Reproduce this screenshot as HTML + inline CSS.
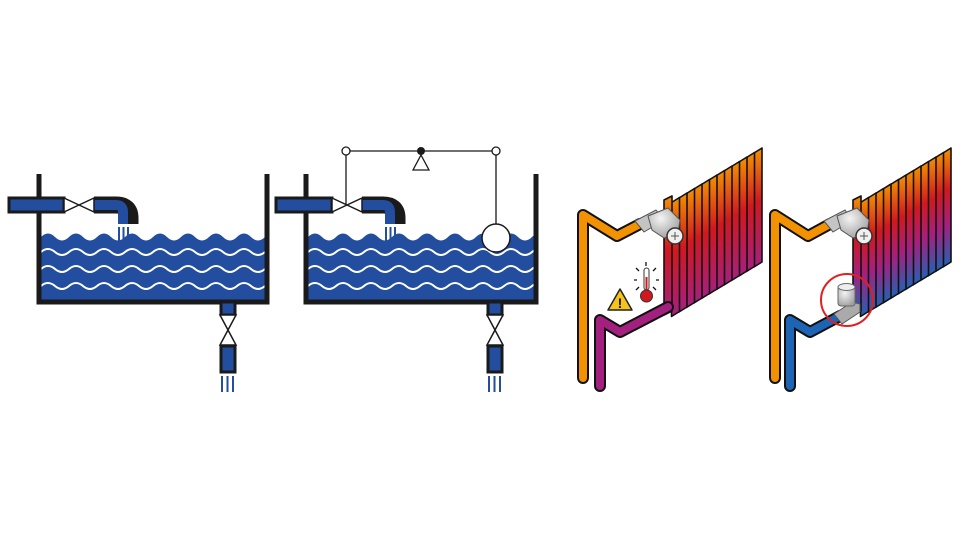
<!DOCTYPE html>
<html><head><meta charset="utf-8"><style>html,body{margin:0;padding:0;background:#fff}svg{display:block}</style></head>
<body>
<svg width="960" height="540" viewBox="0 0 960 540" xmlns="http://www.w3.org/2000/svg">
<defs>
<linearGradient id="g1" x1="0" y1="0" x2="0" y2="1">
<stop offset="0" stop-color="#f39200"/><stop offset="0.45" stop-color="#d2171f"/><stop offset="1" stop-color="#a4207f"/></linearGradient>
<linearGradient id="g2" x1="0" y1="0" x2="0" y2="1">
<stop offset="0" stop-color="#f39200"/><stop offset="0.35" stop-color="#d2171f"/><stop offset="0.65" stop-color="#a4207f"/><stop offset="1" stop-color="#1e64b4"/></linearGradient>
<radialGradient id="gv" cx="0.4" cy="0.35" r="0.7"><stop offset="0" stop-color="#f4f4f4"/><stop offset="1" stop-color="#a0a0a0"/></radialGradient>
<g id="wave"><path d="M0 0 q7 -6 14 0 t14 0 t14 0 t14 0 t14 0 t14 0 t14 0 t14 0 t14 0 t14 0 t14 0 t14 0 t14 0 t14 0 t14 0 t14 0 t14 0" fill="none" stroke="#fff" stroke-width="2"/></g>
<g id="tank">
<path d="M0 65 q7 -7 14 0 t14 0 t14 0 t14 0 t14 0 t14 0 t14 0 t14 0 t14 0 t14 0 t14 0 t14 0 t14 0 t14 0 t14 0 t14 0 t14 0 V128 H0 Z" fill="#234d9e"/>
<use href="#wave" y="80"/><use href="#wave" y="97"/><use href="#wave" y="114"/>
</g>
<g id="fins">
<polygon points="754,153 762,148 762,262 754,267"/>
<polygon points="746.5,157.5 754.5,152.5 754.5,266.5 746.5,271.5"/>
<polygon points="739,162 747,157 747,271 739,276"/>
<polygon points="731.5,166.5 739.5,161.5 739.5,275.5 731.5,280.5"/>
<polygon points="724,171 732,166 732,280 724,285"/>
<polygon points="716.5,175.5 724.5,170.5 724.5,284.5 716.5,289.5"/>
<polygon points="709,180 717,175 717,289 709,294"/>
<polygon points="701.5,184.5 709.5,179.5 709.5,293.5 701.5,298.5"/>
<polygon points="694,189 702,184 702,298 694,303"/>
<polygon points="686.5,193.5 694.5,188.5 694.5,302.5 686.5,307.5"/>
<polygon points="679,198 687,193 687,307 679,312"/>
<polygon points="671.5,202.5 679.5,197.5 679.5,311.5 671.5,316.5"/>
<polygon points="664,200 672,196 672,311 664,315"/>
</g>
<g id="tv">
<path d="M-27 -5 L-6 -16 L2 -6 L-18 6 Z" fill="#c4c4c4" stroke="#555" stroke-width="1"/>
<path d="M-14 -10 L6 -18 L18 -6 L16 8 L2 12 L-10 4 Z" fill="url(#gv)" stroke="#555" stroke-width="1"/>
<circle cx="13" cy="10" r="8" fill="#f0f0f0" stroke="#333" stroke-width="1.5"/>
<path d="M9 10 H17 M13 6 V14" stroke="#555" stroke-width="1"/>
</g>
</defs>

<!-- TANK 1 -->
<svg x="41" y="172" width="225" height="128" overflow="hidden"><use href="#tank"/></svg>
<path d="M39 174 V302 H267 V174" fill="none" stroke="#1a1a1a" stroke-width="5"/>
<rect x="9" y="198" width="55" height="14" fill="#234d9e" stroke="#1a1a1a" stroke-width="3"/>
<path d="M94 205 H116 Q130 205 130 218 V224" fill="none" stroke="#1a1a1a" stroke-width="17"/>
<path d="M94 205 H116 Q123 205 123 212 V224" fill="none" stroke="#234d9e" stroke-width="10"/>
<path d="M64 198 L94 212 V198 L64 212 Z" fill="#fff" stroke="#1a1a1a" stroke-width="1.5"/>
<path d="M119 227 V243 M123.5 227 V243 M128 227 V243" stroke="#234d9e" stroke-width="2"/>
<rect x="221" y="302" width="14" height="13" fill="#234d9e" stroke="#1a1a1a" stroke-width="3"/>
<path d="M220 315 L236 345 H220 L236 315 Z" fill="#fff" stroke="#1a1a1a" stroke-width="1.5"/>
<rect x="221" y="346" width="14" height="26" fill="#234d9e" stroke="#1a1a1a" stroke-width="3"/>
<path d="M222 376 V392 M227.5 376 V392 M233 376 V392" stroke="#234d9e" stroke-width="2"/>

<!-- TANK 2 -->
<svg x="308" y="172" width="226" height="128" overflow="hidden"><use href="#tank"/></svg>
<path d="M306 174 V302 H536 V174" fill="none" stroke="#1a1a1a" stroke-width="5"/>
<rect x="276" y="198" width="56" height="14" fill="#234d9e" stroke="#1a1a1a" stroke-width="3"/>
<path d="M362 205 H383 Q397 205 397 218 V224" fill="none" stroke="#1a1a1a" stroke-width="17"/>
<path d="M362 205 H383 Q390 205 390 212 V224" fill="none" stroke="#234d9e" stroke-width="10"/>
<path d="M332 198 L362 212 V198 L332 212 Z" fill="#fff" stroke="#1a1a1a" stroke-width="1.5"/>
<path d="M386 227 V243 M390.5 227 V243 M395 227 V243" stroke="#234d9e" stroke-width="2"/>
<path d="M346 151 H496 M346 151 V205 M496 151 V224" stroke="#1a1a1a" stroke-width="1.3" fill="none"/>
<circle cx="346" cy="151" r="4" fill="#fff" stroke="#1a1a1a" stroke-width="1.3"/>
<circle cx="496" cy="151" r="4" fill="#fff" stroke="#1a1a1a" stroke-width="1.3"/>
<circle cx="421" cy="151" r="4" fill="#1a1a1a"/>
<path d="M421 155 L429 170 H413 Z" fill="#fff" stroke="#1a1a1a" stroke-width="1.3"/>
<circle cx="496" cy="238" r="14" fill="#fff" stroke="#1a1a1a" stroke-width="1.5"/>
<rect x="488" y="302" width="14" height="13" fill="#234d9e" stroke="#1a1a1a" stroke-width="3"/>
<path d="M487 315 L503 345 H487 L503 315 Z" fill="#fff" stroke="#1a1a1a" stroke-width="1.5"/>
<rect x="488" y="346" width="14" height="26" fill="#234d9e" stroke="#1a1a1a" stroke-width="3"/>
<path d="M489 376 V392 M494.5 376 V392 M500 376 V392" stroke="#234d9e" stroke-width="2"/>

<!-- RADIATOR 1 -->
<use href="#fins" fill="url(#g1)" stroke="#111" stroke-width="1.6" stroke-linejoin="round"/>
<path d="M583 378 V215 L617 236 L640 224" fill="none" stroke="#111" stroke-width="12" stroke-linejoin="round" stroke-linecap="round"/>
<path d="M583 378 V215 L617 236 L640 224" fill="none" stroke="#f39200" stroke-width="8" stroke-linejoin="round" stroke-linecap="round"/>
<path d="M600 386 V320 L620 332 L668 307" fill="none" stroke="#111" stroke-width="12" stroke-linejoin="round" stroke-linecap="round"/>
<path d="M600 386 V320 L620 332 L668 307" fill="none" stroke="#a4207f" stroke-width="8" stroke-linejoin="round" stroke-linecap="round"/>
<use href="#tv" x="662" y="226"/>
<path d="M620 289 L632 310 H608 Z" fill="#f6c31a" stroke="#222" stroke-width="1.5" stroke-linejoin="round"/>
<text x="620" y="308" font-family="Liberation Sans, sans-serif" font-size="14" font-weight="bold" text-anchor="middle" fill="#111">!</text>
<rect x="644" y="268" width="5" height="22" rx="2.5" fill="#fff" stroke="#333" stroke-width="1"/>
<rect x="645.5" y="277" width="2" height="13" fill="#d2171f"/>
<circle cx="646.5" cy="296" r="6" fill="#d2171f" stroke="#333" stroke-width="1"/>
<path d="M646 262 V266 M636 268 L639 271 M656 268 L653 271 M634 280 H637 M656 280 H659 M636 290 L639 287 M656 290 L653 287" stroke="#111" stroke-width="1.3"/>

<!-- RADIATOR 2 -->
<use href="#fins" x="189" fill="url(#g2)" stroke="#111" stroke-width="1.6" stroke-linejoin="round"/>
<path d="M775 378 V215 L808 236 L830 224" fill="none" stroke="#111" stroke-width="12" stroke-linejoin="round" stroke-linecap="round"/>
<path d="M775 378 V215 L808 236 L830 224" fill="none" stroke="#f39200" stroke-width="8" stroke-linejoin="round" stroke-linecap="round"/>
<path d="M790 386 V320 L810 332 L840 316" fill="none" stroke="#111" stroke-width="12" stroke-linejoin="round" stroke-linecap="round"/>
<path d="M790 386 V320 L810 332 L840 316" fill="none" stroke="#1e64b4" stroke-width="8" stroke-linejoin="round" stroke-linecap="round"/>
<use href="#tv" x="851" y="226"/>
<path d="M834 314 L852 302 L860 304 L860 312 L842 324 Z" fill="#aaa" stroke="#555" stroke-width="1"/>
<rect x="838" y="286" width="17" height="20" rx="3" fill="url(#gv)" stroke="#666" stroke-width="1"/>
<ellipse cx="846.5" cy="287" rx="8.5" ry="3.5" fill="#eee" stroke="#666" stroke-width="1"/>
<circle cx="847" cy="300" r="26" fill="none" stroke="#e02020" stroke-width="2"/>
</svg>
</body></html>
